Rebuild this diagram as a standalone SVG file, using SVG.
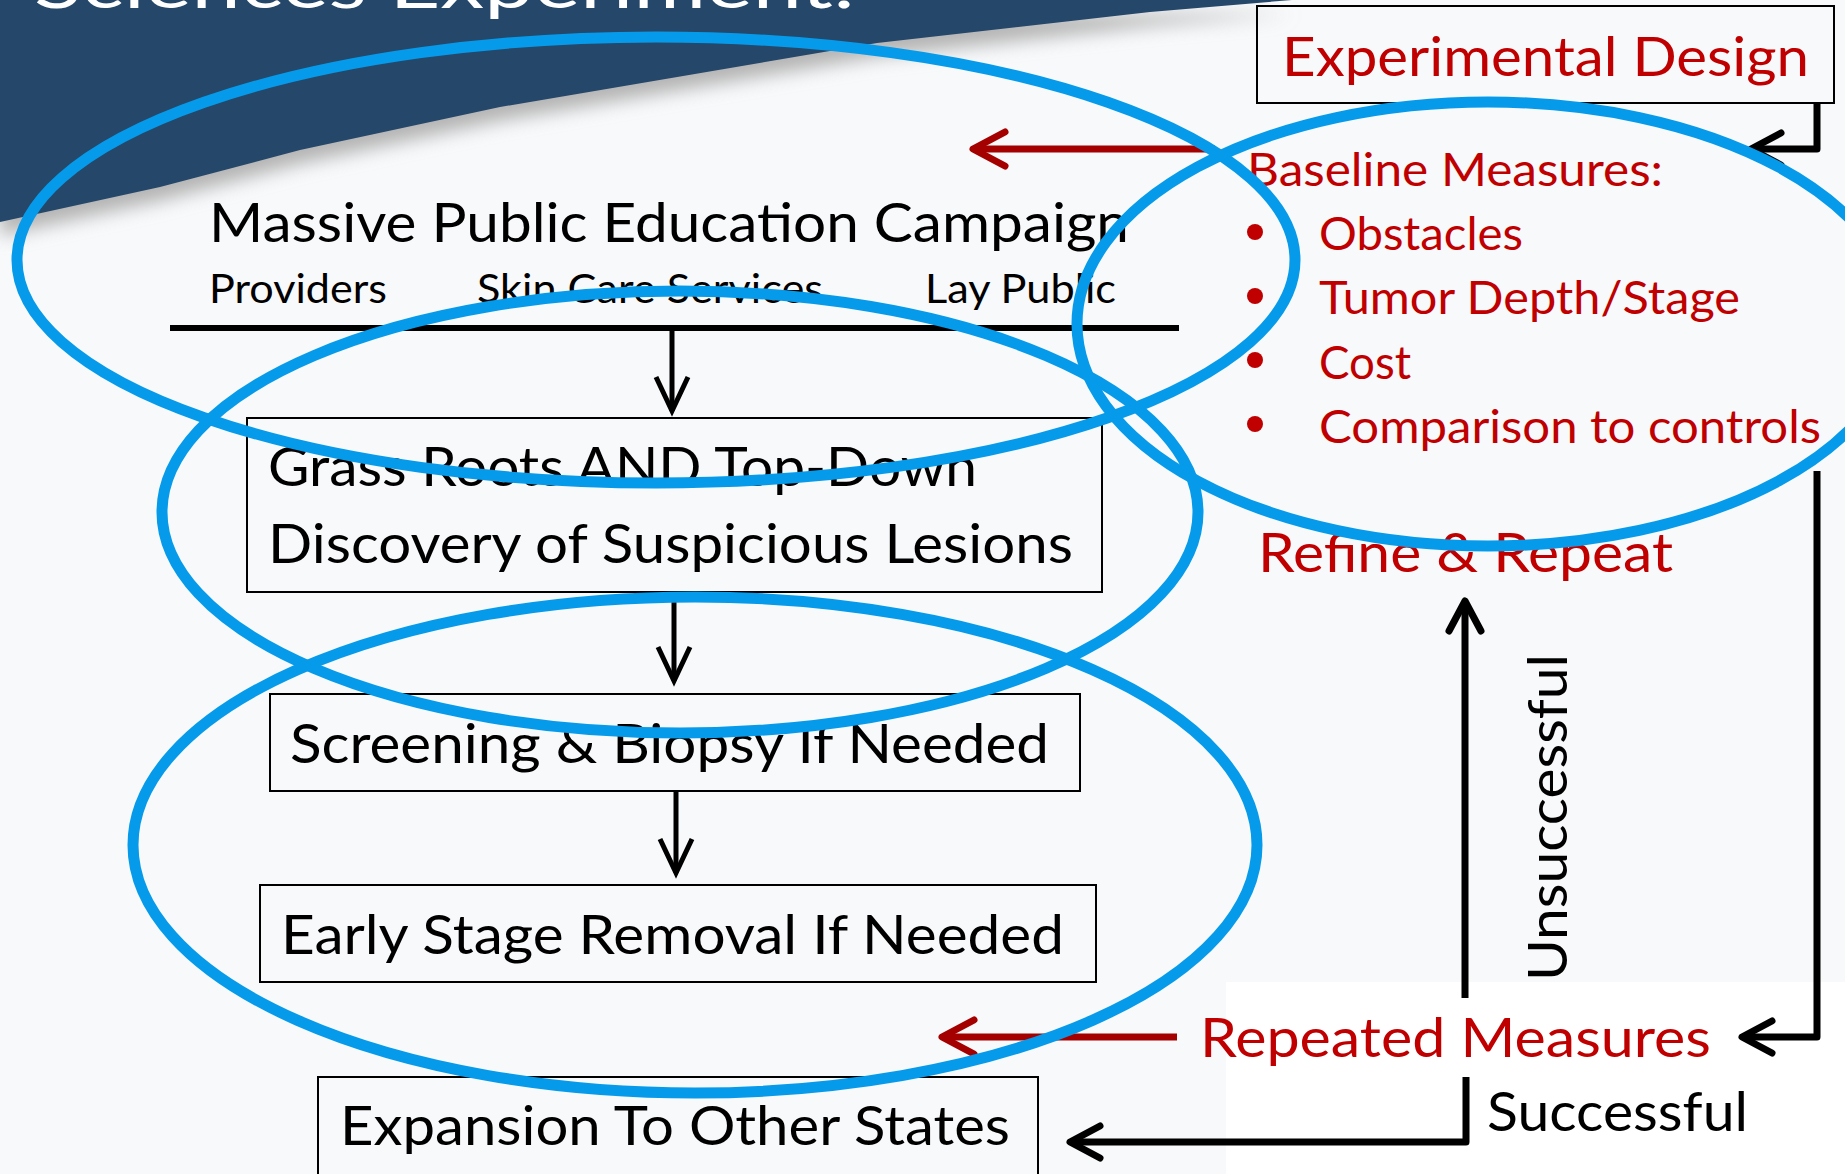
<svg xmlns="http://www.w3.org/2000/svg" width="1845" height="1174" viewBox="0 0 1845 1174">
<defs>
<style>
.t{font-family:Lato,"Open Sans","Liberation Sans",sans-serif;fill:#000}
.r{fill:#c00000}
.big{font-size:55px}
.sub{font-size:40px}
.lst{font-size:46px}
.box{fill:none;stroke:#000;stroke-width:2}
.ln{fill:none;stroke:#000;stroke-width:5}
.thk{fill:none;stroke:#000;stroke-width:7;stroke-linejoin:round}
.red{fill:none;stroke:#a50000;stroke-width:7}
.ring{fill:none;stroke:#069bea;stroke-width:11}
</style>
<filter id="sh" x="-10%" y="-20%" width="120%" height="160%"><feGaussianBlur stdDeviation="9"/></filter>
<marker id="ah" markerUnits="userSpaceOnUse" orient="auto" markerWidth="40" markerHeight="40" refX="0" refY="0" overflow="visible">
<path d="M-34,-16 L0,0 L-34,16" fill="none" stroke="#000" stroke-width="5"/>
</marker>
<marker id="ahk" markerUnits="userSpaceOnUse" orient="auto" markerWidth="40" markerHeight="40" refX="0" refY="0" overflow="visible">
<path d="M-30,-16 L0,0 L-30,16" fill="none" stroke="#000" stroke-width="7" stroke-linecap="round" stroke-linejoin="round"/>
</marker>
<marker id="ahr" markerUnits="userSpaceOnUse" orient="auto" markerWidth="40" markerHeight="40" refX="0" refY="0" overflow="visible">
<path d="M-32,-17 L0,0 L-32,17" fill="none" stroke="#a50000" stroke-width="7" stroke-linecap="round" stroke-linejoin="round"/>
</marker>
</defs>

<g id="background">
<rect x="0" y="0" width="1845" height="1174" fill="#f8f9fb"/>
<path d="M0,0 H1292 L1150,12 L877,43 L500,107 L300,150 L160,187 L0,222 Z" fill="#b4b4b4" transform="translate(0,14)" filter="url(#sh)"/>
<path d="M0,0 H1292 L1150,12 L877,43 L500,107 L300,150 L160,187 L0,222 Z" fill="#25476a"/>
<rect x="1226" y="982" width="619" height="192" fill="#ffffff"/>
<text class="t" x="34" y="8" font-size="64" textLength="821" lengthAdjust="spacingAndGlyphs" style="fill:#ffffff">Sciences Experiment:</text>
</g>

<g id="connectors">
<path class="ln" d="M672,328 V411" marker-end="url(#ah)"/>
<path class="ln" d="M674,592 V681" marker-end="url(#ah)"/>
<path class="ln" d="M676,791 V873" marker-end="url(#ah)"/>
<path class="red" d="M1215,149 H973" marker-end="url(#ahr)"/>
<path class="thk" d="M1817,103 V149 H1751" marker-end="url(#ahk)"/>
<path class="thk" d="M1817,471 V1037 H1742" marker-end="url(#ahk)"/>
<path class="red" d="M1177,1037 H942" marker-end="url(#ahr)"/>
<path class="thk" d="M1465,998 V601" marker-end="url(#ahk)"/>
<path class="thk" d="M1466,1077 V1142 H1070" marker-end="url(#ahk)"/>
</g>

<g id="campaign">
<text class="t big" x="209" y="242" textLength="920" lengthAdjust="spacingAndGlyphs">Massive Public Education Campaign</text>
<text class="t sub" x="209" y="303" textLength="178" lengthAdjust="spacingAndGlyphs">Providers</text>
<text class="t sub" x="477" y="303" textLength="346" lengthAdjust="spacingAndGlyphs">Skin Care Services</text>
<text class="t sub" x="925" y="303" textLength="191" lengthAdjust="spacingAndGlyphs">Lay Public</text>
<path d="M170,328 H1179" stroke="#000" stroke-width="6"/>
</g>

<g id="discovery">
<rect class="box" x="247" y="418" width="855" height="174"/>
<text class="t big" x="268" y="486" textLength="709" lengthAdjust="spacingAndGlyphs">Grass Roots AND Top-Down</text>
<text class="t big" x="268" y="563" textLength="805" lengthAdjust="spacingAndGlyphs">Discovery of Suspicious Lesions</text>
</g>

<g id="screening">
<rect class="box" x="270" y="694" width="810" height="97"/>
<text class="t big" x="290" y="763" textLength="759" lengthAdjust="spacingAndGlyphs">Screening &amp; Biopsy If Needed</text>
</g>

<g id="removal">
<rect class="box" x="260" y="885" width="836" height="97"/>
<text class="t big" x="281" y="954" textLength="783" lengthAdjust="spacingAndGlyphs">Early Stage Removal If Needed</text>
</g>

<g id="expansion">
<rect class="box" x="318" y="1077" width="720" height="110"/>
<text class="t big" x="340" y="1145" textLength="670" lengthAdjust="spacingAndGlyphs">Expansion To Other States</text>
</g>

<g id="experimental-design">
<rect class="box" x="1257" y="6" width="577" height="97"/>
<text class="t big r" x="1282" y="76" textLength="527" lengthAdjust="spacingAndGlyphs">Experimental Design</text>
</g>

<g id="baseline">
<text class="t lst r" x="1247" y="186" textLength="416" lengthAdjust="spacingAndGlyphs">Baseline Measures:</text>
<circle cx="1255" cy="232" r="8" fill="#c00000"/>
<circle cx="1255" cy="296" r="8" fill="#c00000"/>
<circle cx="1255" cy="360" r="8" fill="#c00000"/>
<circle cx="1255" cy="424" r="8" fill="#c00000"/>
<text class="t lst r" x="1319" y="250" textLength="204" lengthAdjust="spacingAndGlyphs">Obstacles</text>
<text class="t lst r" x="1319" y="314" textLength="421" lengthAdjust="spacingAndGlyphs">Tumor Depth/Stage</text>
<text class="t lst r" x="1319" y="379" textLength="92" lengthAdjust="spacingAndGlyphs">Cost</text>
<text class="t lst r" x="1319" y="443" textLength="502" lengthAdjust="spacingAndGlyphs">Comparison to controls</text>
</g>

<g id="refine">
<text class="t big r" x="1258" y="572" textLength="415" lengthAdjust="spacingAndGlyphs">Refine &amp; Repeat</text>
</g>

<g id="repeated">
<text class="t big r" x="1200" y="1057" textLength="511" lengthAdjust="spacingAndGlyphs">Repeated Measures</text>
</g>

<g id="labels">
<text class="t big" x="1487" y="1131" textLength="261" lengthAdjust="spacingAndGlyphs">Successful</text>
<text class="t big" transform="translate(1567,981) rotate(-90)" x="0" y="0" textLength="327" lengthAdjust="spacingAndGlyphs">Unsuccessful</text>
</g>

<g id="highlights">
<ellipse class="ring" cx="656" cy="260" rx="639" ry="223"/>
<ellipse class="ring" cx="680" cy="512" rx="518" ry="221"/>
<ellipse class="ring" cx="695" cy="845" rx="562" ry="248"/>
<ellipse class="ring" cx="1488" cy="324" rx="411" ry="222"/>
</g>
</svg>
